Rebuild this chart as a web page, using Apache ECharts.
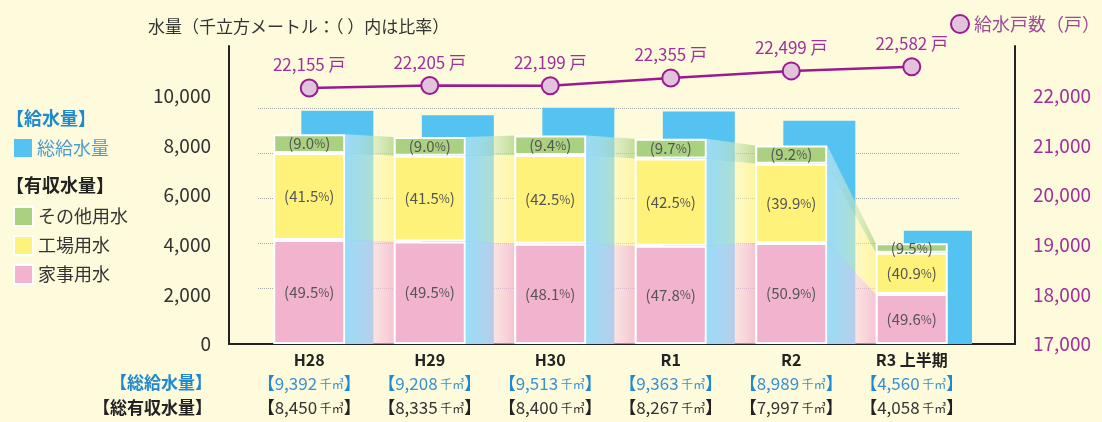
<!DOCTYPE html>
<html>
<head>
<meta charset="utf-8">
<script src="https://cdn.jsdelivr.net/npm/echarts@6/dist/echarts.min.js"></script>
<style>
  html, body { margin: 0; background: #fefbdc; }
  #container { width: 1102px; height: 422px; }
</style>
</head>
<body>
<div id="container"></div>
<script>
const years = ['H28', 'H29', 'H30', 'R1', 'R2', 'R3 上半期'];
const totalSupply = [9392, 9208, 9513, 9363, 8989, 4560];
const totalRevenue = [8450, 8335, 8400, 8267, 7997, 4058];
const household = [4183, 4126, 4040, 3952, 4070, 2013];
const factory = [3507, 3459, 3570, 3513, 3191, 1660];
const other = [760, 750, 790, 802, 736, 385];
const householdPct = ['49.5', '49.5', '48.1', '47.8', '50.9', '49.6'];
const factoryPct = ['41.5', '41.5', '42.5', '42.5', '39.9', '40.9'];
const otherPct = ['9.0', '9.0', '9.4', '9.7', '9.2', '9.5'];
const households = [22155, 22205, 22199, 22355, 22499, 22582];

const PINK = '#f2b3cf';
const YELLOW = '#fff27b';
const GREEN = '#a9d17f';
const BLUE = '#55c3f1';
const PURPLE = '#9c1a8e';
const flowColors = ['rgba(242,179,207,0.75)', 'rgba(255,242,123,0.6)', 'rgba(169,209,127,0.7)'];

const fmt = v => v.toLocaleString('en-US');
const BAR_W = 72;

const chart = echarts.init(document.getElementById('container'));

// flow bands between neighbouring stacks
const flows = [];
for (let i = 0; i < years.length - 1; i++) {
  flows.push([i, household[i], factory[i], other[i], household[i + 1], factory[i + 1], other[i + 1]]);
}

function renderFlow(params, api) {
  const i = api.value(0);
  const a = [api.value(1), api.value(2), api.value(3)];
  const b = [api.value(4), api.value(5), api.value(6)];
  const xs = api.coord([i, 0])[0] + BAR_W / 2;
  const xe = api.coord([i + 1, 0])[0] - BAR_W / 2;
  let ca = 0, cb = 0;
  const children = [];
  for (let k = 0; k < 3; k++) {
    const ya0 = api.coord([i, ca])[1];
    const yb0 = api.coord([i + 1, cb])[1];
    ca += a[k];
    cb += b[k];
    const ya1 = api.coord([i, ca])[1];
    const yb1 = api.coord([i + 1, cb])[1];
    children.push({
      type: 'polygon',
      shape: { points: [[xs, ya1], [xe, yb1], [xe, yb0], [xs, ya0]] },
      style: {
        fill: new echarts.graphic.LinearGradient(0, 0, 1, 0, [
          { offset: 0, color: 'rgba(255,255,255,0.4)' },
          { offset: 1, color: flowColors[k] }
        ])
      }
    });
  }
  return { type: 'group', children };
}

function pctLabel(pcts) {
  return {
    show: true,
    position: 'inside',
    color: '#555',
    fontSize: 15,
    formatter: p => '(' + pcts[p.dataIndex] + '{p|%})',
    rich: { p: { fontSize: 12, color: '#555' } }
  };
}

function stackBar(name, data, color, pcts) {
  return {
    name: name,
    type: 'bar',
    stack: 'use',
    xAxisIndex: 1,
    yAxisIndex: 2,
    barWidth: BAR_W,
    barGap: '-61%',
    z: 3,
    itemStyle: { color: color, borderColor: '#fff', borderWidth: 2 },
    label: pctLabel(pcts),
    data: data
  };
}

const hiddenAxis = { show: false };

const option = {
  backgroundColor: '#fefbdc',
  textStyle: { fontFamily: '"Noto Sans CJK JP", "Noto Sans", sans-serif' },
  animation: false,
  title: [
    { text: '水量（千立方メートル：（ ）内は比率）', left: 148, top: 18, padding: 0,
      textStyle: { fontSize: 17, fontWeight: 'normal', color: '#333' } },
    { text: '【給水量】', left: 6, top: 109, padding: 0,
      textStyle: { fontSize: 18, fontWeight: 'bold', color: '#1e88d0' } },
    { text: '【有収水量】', left: 6, top: 176, padding: 0,
      textStyle: { fontSize: 18, fontWeight: 'bold', color: '#222' } },
    { text: '【総給水量】', right: 890, top: 374, padding: 0,
      textStyle: { fontSize: 17, fontWeight: 'bold', color: '#1e88d0' } },
    { text: '【総有収水量】', right: 890, top: 399, padding: 0,
      textStyle: { fontSize: 17, fontWeight: 'bold', color: '#222' } }
  ],
  legend: [
    { data: ['総給水量'], left: 14, top: 139, padding: 0, icon: 'rect',
      itemWidth: 18, itemHeight: 18, itemGap: 8,
      textStyle: { fontSize: 18, color: '#4a9bd3' } },
    { data: ['その他用水', '工場用水', '家事用水'], orient: 'vertical', left: 13, top: 206, padding: 0,
      icon: 'rect', itemWidth: 19, itemHeight: 19, itemGap: 8,
      itemStyle: { borderColor: '#fff', borderWidth: 2 },
      textStyle: { fontSize: 18, color: '#333' } },
    { data: [{ name: '給水戸数（戸）', icon: 'circle',
               itemStyle: { color: '#e2c3de', borderColor: PURPLE, borderWidth: 2 } }],
      right: 2, top: 14, padding: 0, itemWidth: 18, itemHeight: 18,
      textStyle: { fontSize: 18, color: '#9c4a93' } }
  ],
  grid: [
    { left: 229, right: 87, top: 46, bottom: 78 },
    { left: 249, right: 130, top: 46, bottom: 78 },
    { left: 258, right: 142, top: 108, bottom: 134 }
  ],
  xAxis: [
    { gridIndex: 0, type: 'value', min: 0, max: 1,
      axisLine: { show: true, lineStyle: { color: '#222', width: 2 } },
      axisTick: { show: false }, axisLabel: { show: false }, splitLine: { show: false } },
    { gridIndex: 1, type: 'category', data: years,
      axisLine: { show: false }, axisTick: { show: false },
      axisLabel: {
        margin: 4,
        interval: 0,
        formatter: (v, idx) =>
          '{c|' + v + '}\n' +
          '{b|【}{bn|' + fmt(totalSupply[idx]) + '}{bu| 千㎥}{b|】}\n' +
          '{k|【}{kn|' + fmt(totalRevenue[idx]) + '}{ku| 千㎥}{k|】}',
        rich: {
          c: { fontSize: 16, color: '#222', fontWeight: 'bold', lineHeight: 24 },
          b: { fontSize: 17, color: '#1e88d0', fontWeight: 'bold', lineHeight: 24 },
          bn: { fontSize: 17, color: '#3a90d0', lineHeight: 24 },
          bu: { fontSize: 12, color: '#3a90d0', lineHeight: 24 },
          k: { fontSize: 17, color: '#222', fontWeight: 'bold', lineHeight: 24 },
          kn: { fontSize: 17, color: '#333', lineHeight: 24 },
          ku: { fontSize: 12, color: '#333', lineHeight: 24 }
        }
      } },
    { gridIndex: 2, type: 'value', min: 0, max: 1, show: false }
  ],
  yAxis: [
    { gridIndex: 0, type: 'value', position: 'left', min: 0, max: 12000, interval: 2000,
      axisLine: { show: true, lineStyle: { color: '#222', width: 2 } },
      axisTick: { show: false }, splitLine: { show: false },
      axisLabel: { margin: 18, fontSize: 19, color: '#333', showMaxLabel: false, formatter: v => fmt(v) } },
    { gridIndex: 0, type: 'value', position: 'right', min: 17000, max: 23000, interval: 1000,
      axisLine: { show: true, lineStyle: { color: '#222', width: 2 } },
      axisTick: { show: false }, splitLine: { show: false },
      axisLabel: { margin: 18, fontSize: 19, color: '#a0309a', showMaxLabel: false, formatter: v => fmt(v) } },
    Object.assign({ gridIndex: 1, type: 'value', min: 0, max: 12000 }, hiddenAxis),
    Object.assign({ gridIndex: 1, type: 'value', min: 17000, max: 23000 }, hiddenAxis),
    { gridIndex: 2, type: 'value', min: 0, max: 4, interval: 1,
      axisLine: { show: false }, axisTick: { show: false }, axisLabel: { show: false },
      splitLine: { show: true, showMinLine: true, showMaxLine: true,
                   lineStyle: { type: 'dotted', color: '#a8a8a8', width: 1 } } }
  ],
  series: [
    { name: 'spacer', type: 'bar', xAxisIndex: 1, yAxisIndex: 2, barWidth: BAR_W, barGap: '-61%',
      itemStyle: { color: 'transparent' }, silent: true, data: years.map(() => '-') },
    stackBar('家事用水', household, PINK, householdPct),
    stackBar('工場用水', factory, YELLOW, factoryPct),
    stackBar('その他用水', other, GREEN, otherPct),
    { name: '総給水量', type: 'bar', xAxisIndex: 1, yAxisIndex: 2, barWidth: BAR_W, barGap: '-61%',
      z: 1, itemStyle: { color: BLUE }, data: totalSupply },
    { name: 'flow', type: 'custom', xAxisIndex: 1, yAxisIndex: 2, z: 2, silent: true,
      renderItem: renderFlow, data: flows },
    { name: '給水戸数（戸）', type: 'line', xAxisIndex: 1, yAxisIndex: 3, z: 4,
      symbol: 'circle', symbolSize: 17,
      lineStyle: { color: PURPLE, width: 2.5 },
      itemStyle: { color: '#e2c3de', borderColor: PURPLE, borderWidth: 2 },
      label: { show: true, position: 'top', distance: 5, fontSize: 17, color: '#a0309a',
               formatter: p => fmt(p.value) + ' 戸' },
      data: households }
  ]
};

chart.setOption(option);
</script>
</body>
</html>
